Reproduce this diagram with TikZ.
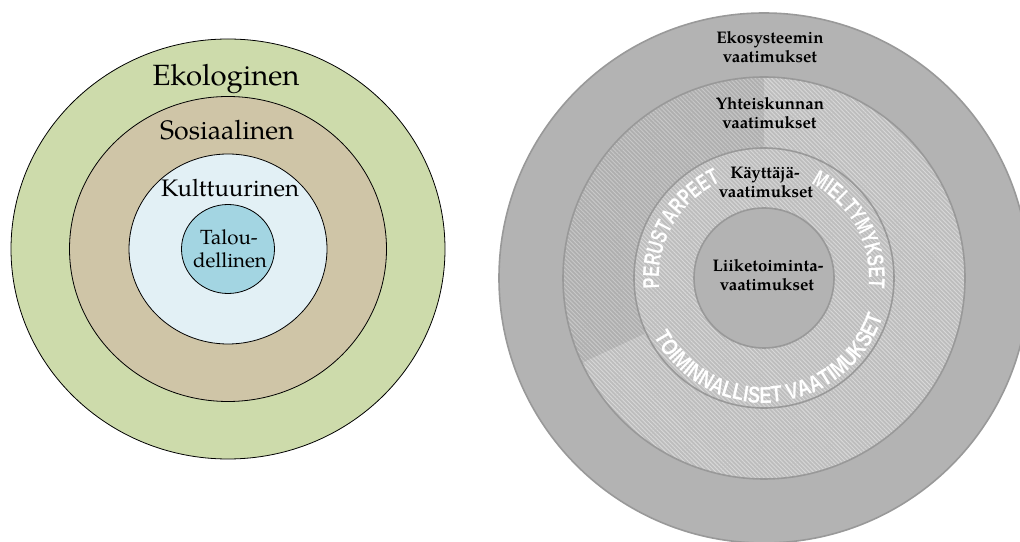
\documentclass[tikz,border=0pt]{standalone}
\usepackage{fontspec}
\setmainfont{texgyrepagella}[Extension=.otf, UprightFont=*-regular, BoldFont=*-bold, ItalicFont=*-italic, BoldItalicFont=*-bolditalic]
\newfontfamily\arcfont[FakeStretch=0.7]{Liberation Sans}
\newfontfamily\arcwidefont[FakeStretch=0.8]{Liberation Sans}
\usetikzlibrary{patterns.meta,decorations.text,calc}

\definecolor{ekoGreen}{HTML}{CDDBAB}
\definecolor{sosTan}{HTML}{CFC5A7}
\definecolor{kultBlue}{HTML}{E2F0F5}
\definecolor{talBlue}{HTML}{A3D5E2}
\definecolor{ringEdge}{HTML}{999999}
\definecolor{outerGray}{HTML}{B3B3B3}
\definecolor{hatchBase}{HTML}{BDBDBD}
\definecolor{hatchLine}{HTML}{D8D8D8}

\begin{document}
\begin{tikzpicture}[x=1pt,y=1pt,
  zone/.style={draw=black, line width=0.8pt},
  lbl/.style={anchor=base, inner sep=0pt},
  req/.style={anchor=base, inner sep=0pt, font=\bfseries\fontsize{16.8}{18}\selectfont},
  ring/.style={draw=ringEdge, line width=1.6pt},
  hatch/.style={pattern={Lines[angle=135,distance=3pt,line width=0.9pt]}, pattern color=hatchLine},
  arctext/.style={decorate, decoration={text along path, text align=center, text={#1}}},
]
\useasboundingbox (0,0) rectangle (1020,541);
\clip (0,0) rectangle (1020,541);
\fill[white] (0,0) rectangle (1020,541);

% ---- nested spheres of sustainability ----
\coordinate (L) at (228,292);
\draw[zone, fill=ekoGreen]  (L) ellipse [x radius=217,  y radius=210];
\draw[zone, fill=sosTan]    (L) ellipse [x radius=158.5,y radius=152.5];
\draw[zone, fill=kultBlue]  (L) ellipse [x radius=99,   y radius=95];
\draw[zone, fill=talBlue]   (L) ellipse [x radius=46.5, y radius=44.5];

\node[lbl, font=\fontsize{29.3}{30}\selectfont] (eko)  at (226,455) {Ekologinen};
\node[lbl, font=\fontsize{26.7}{28}\selectfont] (sos)  at (227,401) {Sosiaalinen};
\node[lbl, font=\fontsize{23.9}{25}\selectfont] (kult) at (230,344) {Kulttuurinen};
\node[lbl, font=\fontsize{20.5}{22}\selectfont] (tal1) at (229,296) {Talou-};
\node[lbl, font=\fontsize{20.5}{22}\selectfont] (tal2) at (230,273) {dellinen};

% ---- layers of requirements ----
\coordinate (R) at (764,263);
\draw[ring, fill=outerGray] (R) circle [radius=265];

\fill[hatchBase] (R) circle [radius=201];
\fill[hatch] (R) circle [radius=201];
\fill[black, opacity=0.07] (R) -- ($(R)+(90:201)$) arc [start angle=90, end angle=205, radius=201] -- cycle;
\draw[ring] (R) circle [radius=201];

\fill[hatchBase] (R) circle [radius=130];
\fill[hatch] (R) circle [radius=130];
\draw[ring] (R) circle [radius=130];

\draw[ring, fill=outerGray] (R) circle [radius=70];

\path[arctext={|\arcfont\bfseries\fontsize{23}{23}\selectfont\color{white}|PERUSTARPEET}]
  ($(R)+(220:105)$) arc [start angle=220, end angle=80, radius=105];
\path[arctext={|\arcfont\bfseries\fontsize{23}{23}\selectfont\color{white}|MIELTYMYKSET}]
  ($(R)+(99:105)$) arc [start angle=99, end angle=-41, radius=105];
\path[arctext={|\arcwidefont\bfseries\fontsize{23}{23}\selectfont\color{white}|TOIMINNALLISET VAATIMUKSET}]
  ($(R)+(175:125)$) arc [start angle=175, end angle=375, radius=125];

\node[req] (eco1) at (770,497) {Ekosysteemin};
\node[req] (eco2) at (770,478) {vaatimukset};
\node[req] (soc1) at (770,431) {Yhteiskunnan};
\node[req] (soc2) at (769.5,412) {vaatimukset};
\node[req] (usr1) at (765,362) {Käyttäjä-};
\node[req] (usr2) at (766,343) {vaatimukset};
\node[req] (biz1) at (768,269) {Liiketoiminta-};
\node[req] (biz2) at (767,250) {vaatimukset};
\end{tikzpicture}
\end{document}
